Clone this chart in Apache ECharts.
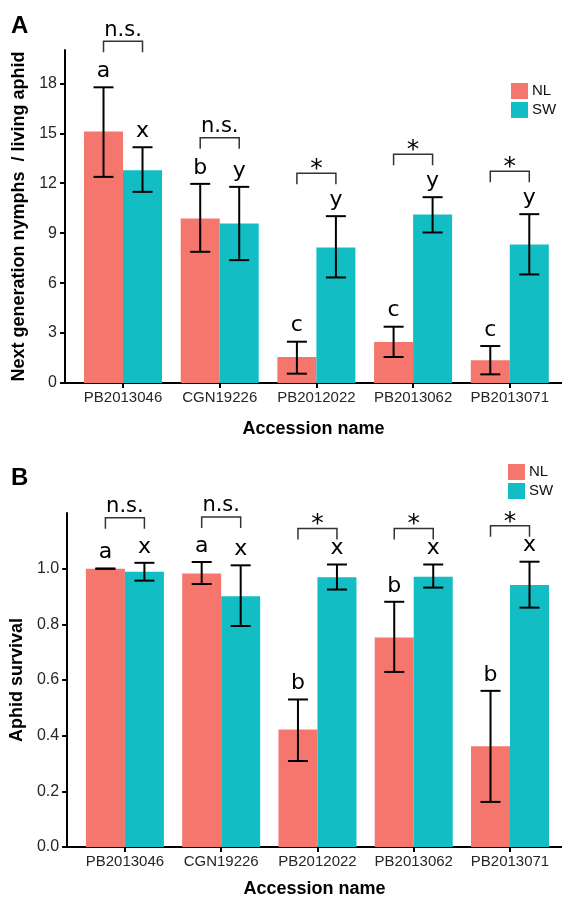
<!DOCTYPE html>
<html><head><meta charset="utf-8">
<script src="https://cdn.jsdelivr.net/npm/echarts@6/dist/echarts.min.js"></script>
<style>html,body{margin:0;padding:0;background:#fff}#c{width:562px;height:899px}</style>
</head><body><div id="c"></div><script>
const categories = ['PB2013046','CGN19226','PB2012022','PB2013062','PB2013071'];
// Panel A: next generation nymphs / living aphid
const nymphsNL     = [15.1, 9.88, 1.56, 2.46, 1.36];
const nymphsNLLow  = [12.38, 7.88, 0.56, 1.56, 0.52];
const nymphsNLHigh = [17.76, 11.96, 2.48, 3.38, 2.22];
const nymphsSW     = [12.78, 9.58, 8.14, 10.12, 8.32];
const nymphsSWLow  = [11.48, 7.38, 6.34, 9.04, 6.52];
const nymphsSWHigh = [14.16, 11.78, 10.02, 11.16, 10.14];
const lettersANL = ['a','b','c','c','c'];
const lettersASW = ['x','y','y','y','y'];
const sigA = ['n.s.','n.s.','*','*','*'];
const yTicksA = [0,3,6,9,12,15,18];
// Panel B: aphid survival
const survNL     = [1.0, 0.983, 0.422, 0.753, 0.362];
const survNLLow  = [1.0, 0.945, 0.309, 0.629, 0.162];
const survNLHigh = [1.0, 1.024, 0.53, 0.881, 0.561];
const survSW     = [0.989, 0.901, 0.969, 0.971, 0.941];
const survSWLow  = [0.957, 0.794, 0.925, 0.932, 0.86];
const survSWHigh = [1.021, 1.012, 1.015, 1.015, 1.025];
const lettersBNL = ['a','a','b','b','b'];
const lettersBSW = ['x','x','x','x','x'];
const sigB = ['n.s.','n.s.','*','*','*'];
const yTicksB = [0,0.2,0.4,0.6,0.8,1.0];

const NLC = '#F5766D', SWC = '#12BDC4';
const BAR_W = 39, HALF = BAR_W/2, CAP = 10;
const xPos = categories.map((c,i)=>i+1);
const LBL_FONT = 'Liberation Sans';
const ANN_FONT = 'DejaVu Sans';
// bracket offset above highest error bar, px: [n.s., *] per panel
const BRACKET_GAP = [[46, 43], [45, 36]];

function makeSeries(gi, nl, nlLo, nlHi, sw, swLo, swHi, letNL, letSW, sig){
  const blk = {stroke:'#000', lineWidth:2};
  return [
    {type:'bar', name:'NL', xAxisIndex:gi, yAxisIndex:gi, barWidth:BAR_W, barGap:'0%',
     itemStyle:{color:NLC}, data:xPos.map((x,i)=>[x, nl[i]]), silent:true},
    {type:'bar', name:'SW', xAxisIndex:gi, yAxisIndex:gi, barWidth:BAR_W, barGap:'0%',
     itemStyle:{color:SWC}, data:xPos.map((x,i)=>[x, sw[i]]), silent:true},
    {type:'custom', xAxisIndex:gi, yAxisIndex:gi, z:5, silent:true,
     encode:{x:0, y:[1,2,3,4]},
     data:xPos.map((x,i)=>[x, nlLo[i], nlHi[i], swLo[i], swHi[i]]),
     renderItem:function(params, api){
       const i = params.dataIndex, x = api.value(0);
       const ch = [];
       [[api.value(1), api.value(2), -1, letNL[i]], [api.value(3), api.value(4), 1, letSW[i]]].forEach(function(e){
         const lo = api.coord([x, e[0]]), hi = api.coord([x, e[1]]);
         const cx = lo[0] + e[2]*HALF;
         ch.push({type:'line', shape:{x1:cx, y1:hi[1], x2:cx, y2:lo[1]}, style:blk});
         ch.push({type:'line', shape:{x1:cx-CAP, y1:hi[1], x2:cx+CAP, y2:hi[1]}, style:blk});
         ch.push({type:'line', shape:{x1:cx-CAP, y1:lo[1], x2:cx+CAP, y2:lo[1]}, style:blk});
         ch.push({type:'text', x:cx, y:hi[1]-5, style:{text:e[3], fill:'#000', font:'22px "'+ANN_FONT+'"', align:'center', verticalAlign:'bottom'}});
       });
       const top = api.coord([x, Math.max(api.value(2), api.value(4))]);
       const isStar = sig[i] === '*';
       const ly = top[1] - BRACKET_GAP[gi][isStar ? 1 : 0];
       const xl = top[0] - HALF, xr = top[0] + HALF;
       ch.push({type:'polyline', shape:{points:[[xl, ly+11],[xl, ly],[xr, ly],[xr, ly+11]]}, style:{stroke:'#333', lineWidth:1.5, fill:null}});
       ch.push({type:'text', x:top[0], y: isStar ? ly+9 : ly-0.5,
         style:{text:sig[i], fill:'#000', font:(isStar?'25px':'21px')+' "'+ANN_FONT+'"', align:'center', verticalAlign: 'bottom'}});
       return {type:'group', children:ch};
     }}
  ];
}

function xAxis(gi){
  return {type:'value', gridIndex:gi, min:0.4, max:5.54,
    name:'Accession name', nameLocation:'middle', nameGap: gi===0 ? 37 : 33,
    nameTextStyle:{fontFamily:LBL_FONT, fontWeight:'bold', fontSize:18, color:'#000'},
    axisLine:{onZero:false, lineStyle:{color:'#000', width:2}},
    axisTick:{show:true, length:5, lineStyle:{color:'#000', width:2}, customValues:xPos},
    axisLabel:{customValues:xPos, formatter:function(v){return categories[Math.round(v)-1];}, margin:7,
      fontFamily:LBL_FONT, fontSize:15, color:'#262626'},
    splitLine:{show:false}};
}
function yAxis(gi, max, ticks, name, fmt){
  return {type:'value', gridIndex:gi, min:0, max:max,
    name:name, nameLocation:'middle', nameGap:36, nameRotate:90,
    nameTextStyle:{fontFamily:LBL_FONT, fontWeight:'bold', fontSize:18, color:'#000'},
    axisLine:{show:true, onZero:false, lineStyle:{color:'#000', width:2}},
    axisTick:{show:true, length:5, lineStyle:{color:'#000', width:2}, customValues:ticks},
    axisLabel:{customValues:ticks, formatter:fmt, margin:8, fontFamily:LBL_FONT, fontSize:16, color:'#262626'},
    splitLine:{show:false}};
}

const chart = echarts.init(document.getElementById('c'), null, {renderer:'canvas'});
chart.setOption({
  animation:false,
  backgroundColor:'#fff',
  grid:[
    {left:65, top:50, width:497, height:333},
    {left:65, top:513, width:497, height:335}
  ],
  xAxis:[xAxis(0), xAxis(1)],
  yAxis:[
    yAxis(0, 20, yTicksA, 'Next generation nymphs  / living aphid', function(v){return String(v);}),
    yAxis(1, 1.2, yTicksB, 'Aphid survival', function(v){return v.toFixed(1);})
  ],
  legend:[
    {data:['NL','SW'], orient:'vertical', left:506, top:78, itemWidth:17, itemHeight:16, itemGap:3, icon:'rect',
     textStyle:{fontFamily:'Liberation Sans Narrow, Liberation Sans', fontSize:15, color:'#111', padding:[0,0,0,-1]}, selectedMode:false},
    {data:['NL','SW'], orient:'vertical', left:503, top:459, itemWidth:17, itemHeight:16, itemGap:3, icon:'rect',
     textStyle:{fontFamily:'Liberation Sans Narrow, Liberation Sans', fontSize:15, color:'#111', padding:[0,0,0,-1]}, selectedMode:false}
  ],
  graphic:[
    {type:'text', left:11, top:14, style:{text:'A', font:'bold 24px "Liberation Sans"', fill:'#000'}},
    {type:'text', left:11, top:466, style:{text:'B', font:'bold 24px "Liberation Sans"', fill:'#000'}}
  ],
  series: makeSeries(0, nymphsNL, nymphsNLLow, nymphsNLHigh, nymphsSW, nymphsSWLow, nymphsSWHigh, lettersANL, lettersASW, sigA)
    .concat(makeSeries(1, survNL, survNLLow, survNLHigh, survSW, survSWLow, survSWHigh, lettersBNL, lettersBSW, sigB))
});
</script></body></html>
